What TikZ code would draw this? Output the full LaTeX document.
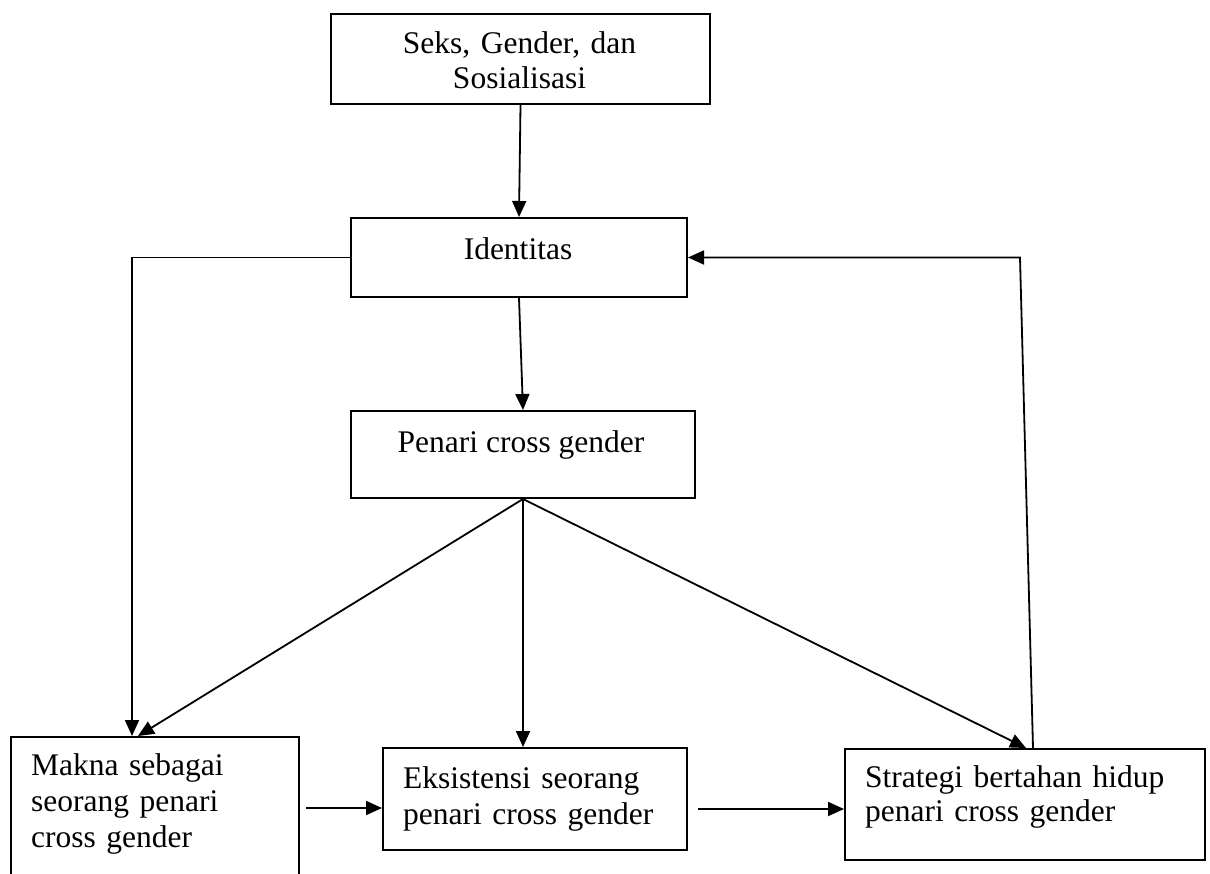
\documentclass[tikz,border=0pt]{standalone}
\usepackage{fontspec}
\setmainfont{Liberation Serif}
\usetikzlibrary{arrows.meta,calc}
\begin{document}
\begin{tikzpicture}[x=1pt,y=-1pt,
  box/.style={draw,line width=2pt,inner sep=0pt,anchor=north west},
  lbl/.style={inner sep=0pt,font=\fontsize{31.5}{36}\selectfont},
  arr/.style={line width=1.8pt,-{Triangle[length=16pt,width=14pt]}},
  ln/.style={line width=1.8pt}]
\clip (0,0) rectangle (1210,873);
\fill[white] (0,0) rectangle (1210,873);
% boxes
\node[box,minimum width=379pt,minimum height=90pt] (b1) at (330,13) {};
\node[box,minimum width=336pt,minimum height=79pt] (b2) at (350,217) {};
\node[box,minimum width=344pt,minimum height=87pt] (b3) at (350,410) {};
\node[box,minimum width=288pt,minimum height=160pt] (b4) at (10,736) {};
\node[box,minimum width=304pt,minimum height=102pt] (b5) at (382,747) {};
\node[box,minimum width=360pt,minimum height=111pt] (b6) at (844,748) {};
% texts
\node[lbl,text width=360pt,align=center,anchor=base] (t1) at (519.5,53) {Seks, Gender, dan\\[-1pt]Sosialisasi};
\node[lbl,anchor=base] (t2) at (518,259) {Identitas};
\node[lbl,anchor=base] (t3) at (521,452) {Penari cross gender};
\node[lbl,text width=270pt,align=left,anchor=base west] (t4) at (31,775) {Makna sebagai\\seorang penari\\cross gender};
\node[lbl,text width=290pt,align=left,anchor=base west] (t5) at (403,788) {Eksistensi seorang\\penari cross gender};
\node[lbl,text width=335pt,align=left,anchor=base west] (t6) at (865,787) {Strategi bertahan hidup\\[-2pt]penari cross gender};
% helper coordinates
\coordinate (lc) at ($(b2.west)+(-218,0)$);
\coordinate (b4in) at ($(b4.north west)+(122,0)$);
\coordinate (b4d) at ($(b4.north west)+(128,0)$);
\coordinate (b6in) at ($(b6.north west)+(182,0)$);
\coordinate (b6out) at ($(b6.north west)+(189,0)$);
\coordinate (rc) at ($(b2.east)+(332,0)$);
\coordinate (a45s) at ($(b4.north east)+(6,72)$);
\coordinate (a56s) at ($(b5.east)+(10,10)$);
% connectors
\draw[arr] (b1.south) -- (b2.north);
\draw[arr] (b2.south) -- (b3.north);
\draw[arr] (b2.west) -- (lc) -- (b4in);
\draw[arr] (b3.south) -- (b4d);
\draw[arr] (b3.south) -- (b3.south |- b5.north);
\draw[arr] (b3.south) -- (b6in);
\draw[arr] (b6out) -- (rc) -- (b2.east);
\draw[arr] (a45s) -- (a45s -| b5.west);
\draw[arr] (a56s) -- (a56s -| b6.west);
\end{tikzpicture}
\end{document}
